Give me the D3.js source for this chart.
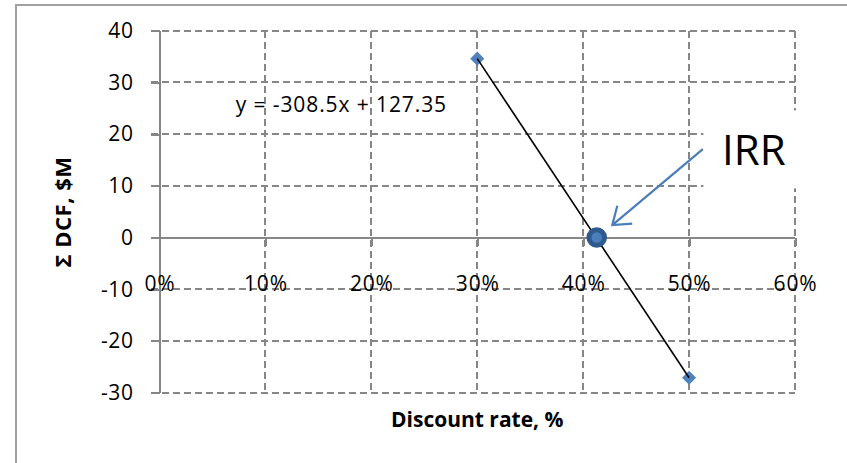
<!DOCTYPE html>
<html>
<head>
<meta charset="utf-8">
<script src="https://cdn.jsdelivr.net/npm/d3@7"></script>
<style>
  body { margin: 0; background: #fff; }
  text { font-family: "Open Sans", sans-serif; fill: #000; }
</style>
</head>
<body>
<div class="chart"></div>
<script>
var svgWidth = 847;
var svgHeight = 463;

// data
var rates = [0.30, 0.50];
var dcf = [34.6, -27.1];
var irrRate = [0.4128];
var irrValue = [0];
var xTicks = [0, 0.1, 0.2, 0.3, 0.4, 0.5, 0.6];
var yTicks = [-30, -20, -10, 0, 10, 20, 30, 40];
var equation = "y = -308.5x + 127.35";

var plot = { left: 159.5, right: 795, top: 30.7, bottom: 392.7 };

var svg = d3.select(".chart")
  .append("svg")
  .attr("width", svgWidth)
  .attr("height", svgHeight);

// chart border (only top/left visible)
svg.append("path")
  .attr("d", `M16,${svgHeight} L16,5 L${svgWidth},5`)
  .attr("fill", "none")
  .attr("stroke", "#a0a0a0")
  .attr("stroke-width", 2)
  .attr("shape-rendering", "crispEdges");

var x = d3.scaleLinear().domain([0, 0.6]).range([plot.left, plot.right]);
var y = d3.scaleLinear().domain([-30, 40]).range([plot.bottom, plot.top]);

var gridColor = "#868686";

// horizontal gridlines (not at 0 - that is the x axis)
svg.append("g").selectAll("line")
  .data(yTicks.filter(d => d !== 0))
  .enter().append("line")
  .attr("x1", plot.left - 9).attr("x2", plot.right)
  .attr("y1", d => y(d)).attr("y2", d => y(d))
  .attr("stroke", gridColor).attr("stroke-width", 2)
  .attr("stroke-dasharray", "7,4")
  .attr("shape-rendering", "crispEdges");

// vertical gridlines
svg.append("g").selectAll("line")
  .data(xTicks.filter(d => d !== 0))
  .enter().append("line")
  .attr("x1", d => x(d)).attr("x2", d => x(d))
  .attr("y1", plot.top).attr("y2", plot.bottom)
  .attr("stroke", gridColor).attr("stroke-width", 2)
  .attr("stroke-dasharray", "7,4")
  .attr("shape-rendering", "crispEdges");

// y axis
var leftAxis = d3.axisLeft(y).tickValues(yTicks).tickSize(9).tickSizeOuter(0).tickPadding(17)
  .tickFormat(d => String(d));
var gy = svg.append("g")
  .attr("transform", `translate(${plot.left},0)`)
  .call(leftAxis);
gy.select(".domain").attr("stroke", gridColor).attr("stroke-width", 2)
  .attr("shape-rendering", "crispEdges");
gy.selectAll(".tick line").attr("stroke", gridColor).attr("stroke-width", 2)
  .attr("shape-rendering", "crispEdges");
gy.selectAll(".tick text")
  .attr("font-size", 21)
  .attr("letter-spacing", 0.6)
  .attr("font-family", "Open Sans, sans-serif")
  .attr("fill", "#000");

// x axis at y = 0
var bottomAxis = d3.axisBottom(x).tickValues(xTicks).tickSize(8).tickSizeOuter(0)
  .tickFormat(d => Math.round(d * 100) + "%");
var gx = svg.append("g")
  .attr("transform", `translate(0,${y(0)})`)
  .call(bottomAxis);
gx.select(".domain").attr("stroke", gridColor).attr("stroke-width", 2)
  .attr("shape-rendering", "crispEdges")
  .attr("d", `M${plot.left - 9},0H${plot.right}`);
gx.selectAll(".tick line").attr("stroke", gridColor).attr("stroke-width", 2)
  .attr("shape-rendering", "crispEdges");
gx.selectAll(".tick text")
  .attr("y", y(-10) - y(0) + 2)
  .attr("dy", 0)
  .attr("font-size", 21)
  .attr("letter-spacing", 0.8)
  .attr("font-family", "Open Sans, sans-serif")
  .attr("fill", "#000");

// axis titles
svg.append("text")
  .attr("transform", `translate(71, 212) rotate(-90)`)
  .attr("text-anchor", "middle")
  .attr("font-size", 22)
  .attr("font-weight", "bold")
  .attr("letter-spacing", 0.5)
  .text("\u03A3 DCF, $M");

svg.append("text")
  .attr("x", (plot.left + plot.right) / 2)
  .attr("y", 427)
  .attr("text-anchor", "middle")
  .attr("font-size", 21)
  .attr("font-weight", "bold")
  .text("Discount rate, %");

// trendline equation
svg.append("text")
  .attr("x", x(0.072))
  .attr("y", y(24.2))
  .attr("font-size", 21)
  .attr("letter-spacing", 0.9)
  .text(equation);

var points = rates.map((r, i) => ({ rate: r, value: dcf[i] }));

// markers
svg.append("g").selectAll("path")
  .data(points)
  .enter().append("path")
  .attr("d", d3.symbol().type(d3.symbolDiamond2).size(125))
  .attr("transform", d => `translate(${x(d.rate)},${y(d.value)})`)
  .attr("fill", "#4f81bd");

// linear trendline through the points
svg.append("path")
  .datum(points)
  .attr("d", d3.line().x(d => x(d.rate)).y(d => y(d.value)))
  .attr("fill", "none")
  .attr("stroke", "#000")
  .attr("stroke-width", 1.6);

// IRR point
svg.append("g").selectAll("circle")
  .data(irrRate.map((r, i) => ({ rate: r, value: irrValue[i] })))
  .enter().append("circle")
  .attr("cx", d => x(d.rate))
  .attr("cy", d => y(d.value))
  .attr("r", 7.8)
  .attr("fill", "#4a7ebb")
  .attr("stroke", "#2f5a8e")
  .attr("stroke-width", 5);

// IRR label box
svg.append("rect")
  .attr("x", x(0.5135)).attr("y", y(24.6))
  .attr("width", 110).attr("height", 78)
  .attr("fill", "#fff");

// arrow to IRR
var a0 = [x(0.513), y(17.1)];
var a1 = [x(0.4275), y(2.4)];
var ang = Math.atan2(a0[1] - a1[1], a0[0] - a1[0]);
var headLen = 20, headAng = 0.62;
var arrowPath = `M${a0[0]},${a0[1]}L${a1[0]},${a1[1]}` +
  `M${a1[0] + headLen * Math.cos(ang - headAng)},${a1[1] + headLen * Math.sin(ang - headAng)}` +
  `L${a1[0]},${a1[1]}` +
  `L${a1[0] + headLen * Math.cos(ang + headAng)},${a1[1] + headLen * Math.sin(ang + headAng)}`;
svg.append("path")
  .attr("d", arrowPath)
  .attr("fill", "none")
  .attr("stroke", "#4a7ebb")
  .attr("stroke-width", 2.2)
  .attr("stroke-linejoin", "miter");

svg.append("text")
  .attr("x", 722)
  .attr("y", 165)
  .attr("font-size", 42)
  .text("IRR");
</script>
</body>
</html>
